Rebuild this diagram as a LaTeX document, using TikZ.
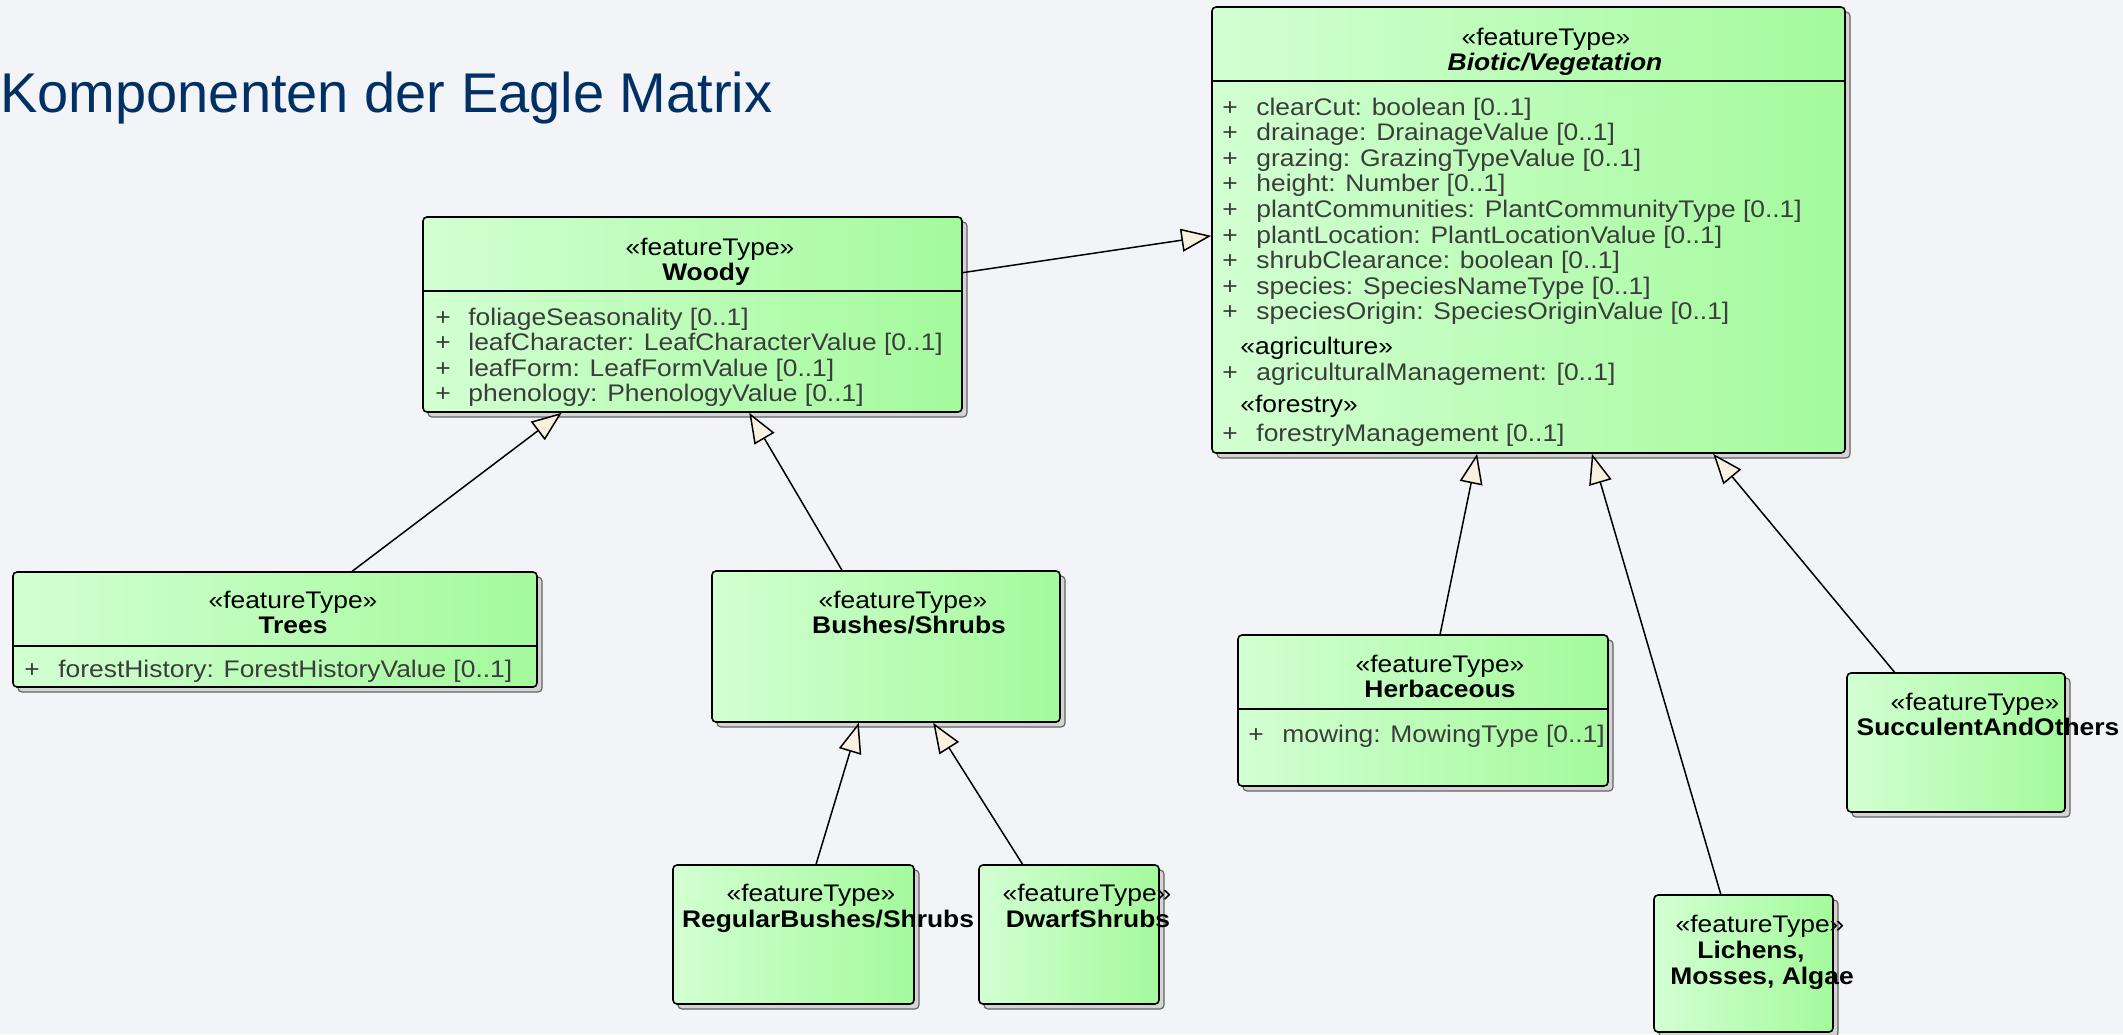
\documentclass[tikz,border=0pt]{standalone}
\usepackage{fontspec}
\setmainfont{Liberation Sans}[FakeStretch=1.1]
\newfontfamily\titlefont{Liberation Sans}
\usetikzlibrary{arrows.meta,calc,fit}
\definecolor{bgcol}{RGB}{242,244,248}
\definecolor{titlecol}{RGB}{0,48,100}
\definecolor{gleft}{RGB}{210,255,210}
\definecolor{gright}{RGB}{164,250,156}
\definecolor{tipfill}{RGB}{250,240,224}
\definecolor{attrcol}{RGB}{60,60,60}
\definecolor{shadowfill}{RGB}{212,212,212}
\definecolor{shadowline}{RGB}{100,100,100}
\tikzset{
 classbox/.style={draw=black, line width=0.8pt, rounded corners=2pt, left color=gleft, right color=gright, inner sep=0pt},
 shadowbox/.style={draw=shadowline, fill=shadowfill, line width=0.6pt, rounded corners=2pt},
 divider/.style={draw=black, line width=0.8pt},
 stereo/.style={anchor=base, inner sep=0pt, font=\fontsize{12}{13}\selectfont},
 stereoleft/.style={anchor=base west, inner sep=0pt, font=\fontsize{12}{13}\selectfont},
 cname/.style={anchor=base, inner sep=0pt, font=\fontsize{12}{13}\selectfont\bfseries},
 attr/.style={anchor=base west, inner sep=0pt, text=attrcol, font=\fontsize{12}{13}\selectfont},
 gen/.style={draw=black, line width=0.75pt, -{Triangle[length=15pt,width=11.5pt,fill=tipfill,line width=0.75pt]}},
}
\newcommand\umlbox[5]{%
 \draw[shadowbox] ($(#2,#3)+(5,5)$) rectangle ($(#4,#5)+(5,5)$);
 \node[classbox, fit={(#2,#3) (#4,#5)}] (#1) {};}
\newcommand\attrline[5]{%
 \node[attr] (#1p) at (#2,#4) {+};
 \node[attr] (#1) at (#3,#4) {#5};}
\begin{document}
\begin{tikzpicture}[x=0.5pt,y=-0.5pt]
\fill[bgcol] (0,0) rectangle (2123,1034);
\useasboundingbox (0,0) rectangle (2123,1034);

\node[anchor=base west, inner sep=0pt, text=titlecol, font=\titlefont\fontsize{28}{34}\selectfont] (title) at (0,112) {Komponenten der Eagle Matrix};

% Biotic/Vegetation
\umlbox{bio}{1212}{7}{1845}{453}
\draw[divider] (bio.west |- 0,81) -- (bio.east |- 0,81);
\node[stereo] (biost) at (1546,45) {«featureType»};
\node[cname, font=\fontsize{12}{13}\selectfont\bfseries\itshape] (bioname) at (1555,70) {Biotic/Vegetation};
\attrline{ba1}{1222}{1256}{115}{clearCut: boolean [0..1]}
\attrline{ba2}{1222}{1256}{140.6}{drainage: DrainageValue [0..1]}
\attrline{ba3}{1222}{1256}{166.2}{grazing: GrazingTypeValue [0..1]}
\attrline{ba4}{1222}{1256}{191.8}{height: Number [0..1]}
\attrline{ba5}{1222}{1256}{217.4}{plantCommunities: PlantCommunityType [0..1]}
\attrline{ba6}{1222}{1256}{243}{plantLocation: PlantLocationValue [0..1]}
\attrline{ba7}{1222}{1256}{268.6}{shrubClearance: boolean [0..1]}
\attrline{ba8}{1222}{1256}{294.2}{species: SpeciesNameType [0..1]}
\attrline{ba9}{1222}{1256}{319.8}{speciesOrigin: SpeciesOriginValue [0..1]}
\node[stereoleft] (agri) at (1240,354) {«agriculture»};
\attrline{ba10}{1222}{1256}{380}{agriculturalManagement: [0..1]}
\node[stereoleft] (forst) at (1240,412) {«forestry»};
\attrline{ba11}{1222}{1256}{441}{forestryManagement [0..1]}

% Woody
\umlbox{woody}{423}{217}{962}{412}
\draw[divider] (woody.west |- 0,291) -- (woody.east |- 0,291);
\node[stereo] (woodyst) at (710,255) {«featureType»};
\node[cname] (woodyname) at (706,280) {Woody};
\attrline{wa1}{435}{468}{325}{foliageSeasonality [0..1]}
\attrline{wa2}{435}{468}{350.5}{leafCharacter: LeafCharacterValue [0..1]}
\attrline{wa3}{435}{468}{376}{leafForm: LeafFormValue [0..1]}
\attrline{wa4}{435}{468}{401.5}{phenology: PhenologyValue [0..1]}

% Trees
\umlbox{trees}{13}{572}{537}{687}
\draw[divider] (trees.west |- 0,646) -- (trees.east |- 0,646);
\node[stereo] (treesst) at (293,608) {«featureType»};
\node[cname] (treesname) at (293,633) {Trees};
\attrline{ta1}{24}{58}{677}{forestHistory: ForestHistoryValue [0..1]}

% Bushes/Shrubs
\umlbox{bush}{712}{571}{1060}{722}
\node[stereo] (bushst) at (903,608) {«featureType»};
\node[cname] (bushname) at (909,633) {Bushes/Shrubs};

% RegularBushes/Shrubs
\umlbox{reg}{673}{865}{914}{1004}
\node[stereo] (regst) at (811,901) {«featureType»};
\node[cname] (regname) at (828,927) {RegularBushes/Shrubs};

% DwarfShrubs
\umlbox{dwarf}{979}{865}{1159}{1004}
\node[stereo] (dwarfst) at (1087,901) {«featureType»};
\node[cname] (dwarfname) at (1088,927) {DwarfShrubs};

% Herbaceous
\umlbox{herb}{1238}{635}{1608}{786}
\draw[divider] (herb.west |- 0,709) -- (herb.east |- 0,709);
\node[stereo] (herbst) at (1440,672) {«featureType»};
\node[cname] (herbname) at (1440,697) {Herbaceous};
\attrline{ha1}{1248}{1282}{742}{mowing: MowingType [0..1]}

% SucculentAndOthers
\umlbox{succ}{1847}{673}{2065}{812}
\node[stereo] (succst) at (1975,710) {«featureType»};
\node[cname] (succname) at (1988,735) {SucculentAndOthers};

% Lichens, Mosses, Algae
\umlbox{lich}{1654}{895}{1833}{1032}
\node[stereo] (lichst) at (1760,932) {«featureType»};
\node[cname] (lichname1) at (1751,958) {Lichens,};
\node[cname] (lichname2) at (1762,984) {Mosses, Algae};

% Generalisations
\draw[gen] ($(woody.north east)!0.287!(woody.south east)$) -- ($(bio.north west)!0.513!(bio.south west)$);
\draw[gen] ($(trees.north west)!0.647!(trees.north east)$) -- ($(woody.south west)!0.258!(woody.south east)$);
\draw[gen] ($(bush.north west)!0.374!(bush.north east)$) -- ($(woody.south west)!0.605!(woody.south east)$);
\draw[gen] ($(reg.north west)!0.593!(reg.north east)$) -- ($(bush.south west)!0.422!(bush.south east)$);
\draw[gen] ($(dwarf.north west)!0.244!(dwarf.north east)$) -- ($(bush.south west)!0.635!(bush.south east)$);
\draw[gen] ($(herb.north west)!0.546!(herb.north east)$) -- ($(bio.south west)!0.419!(bio.south east)$);
\draw[gen] ($(lich.north west)!0.374!(lich.north east)$) -- ($(bio.south west)!0.600!(bio.south east)$);
\draw[gen] ($(succ.north west)!0.220!(succ.north east)$) -- ($(bio.south west)!0.791!(bio.south east)$);
\end{tikzpicture}
\end{document}
